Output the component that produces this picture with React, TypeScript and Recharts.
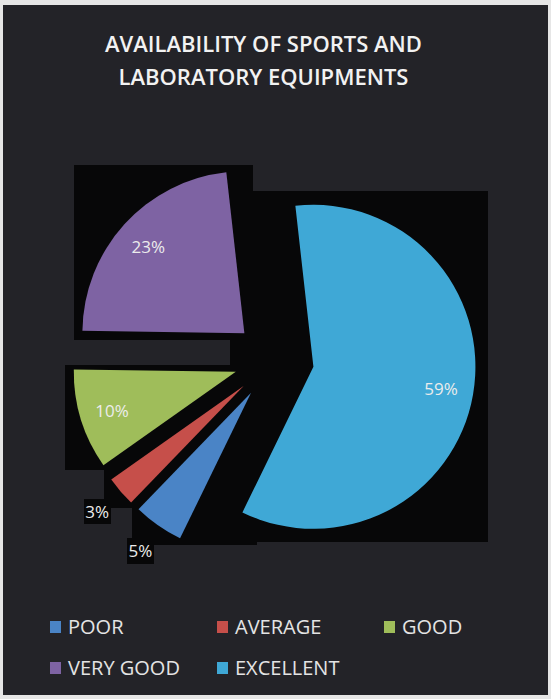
import React from 'react';
import { PieChart, Pie, Cell } from 'recharts';

const categories = ['POOR', 'AVERAGE', 'GOOD', 'VERY GOOD', 'EXCELLENT'];
const shares = [5, 3, 10, 23, 59];
const COLORS = ['#4a84c6', '#c64f4a', '#9fbd5a', '#7e63a3', '#3fa8d6'];

const RAD = Math.PI / 180;
const START = -116;
const CX = 269;
const CY = 355;
const R = 162;
const EXPLODE = 40;

const data = categories.map((name, i) => ({ name, value: shares[i] }));
const total = shares.reduce((a, b) => a + b, 0);

const midAngles = shares.map((v, i) => {
  const before = shares.slice(0, i).reduce((a, b) => a + b, 0);
  return START - ((before + v / 2) / total) * 360;
});

const makeLabel = (target: number) => (props: any) => {
  const { cx, cy, midAngle, outerRadius, index } = props;
  if (index !== target) return null;
  const small = shares[index] < 8;
  const r = small ? outerRadius * 1.19 : outerRadius * 0.8;
  const x = cx + r * Math.cos(-midAngle * RAD);
  const y = cy + r * Math.sin(-midAngle * RAD);
  const txt = {
    x,
    y,
    textAnchor: 'middle' as const,
    dominantBaseline: 'central' as const,
    fontSize: 17,
    fontFamily: "'Open Sans', sans-serif",
  };
  return (
    <g>
      {small && (
        <text {...txt} fill="#000" filter="url(#box)">
          {shares[index]}%
        </text>
      )}
      <text {...txt} fill="#ececec">
        {shares[index]}%
      </text>
    </g>
  );
};

export default function App() {
  return (
    <div style={{ position: 'relative', width: 551, height: 699, background: '#e6e6e6' }}>
      <style>{'body{margin:0;}'}</style>
      <div
        style={{
          position: 'absolute',
          left: 3,
          top: 5,
          width: 545,
          height: 690,
          background: '#232328',
        }}
      />
      <div
        style={{
          position: 'absolute',
          left: -12,
          top: 27,
          width: 551,
          textAlign: 'center',
          color: '#f2f2f2',
          fontFamily: "'Open Sans', sans-serif",
          fontSize: 22,
          fontWeight: 600,
          lineHeight: '33px',
        }}
      >
        AVAILABILITY OF SPORTS AND
        <br />
        LABORATORY EQUIPMENTS
      </div>
      <div style={{ position: 'absolute', left: 0, top: 0 }}>
        <PieChart width={551} height={699}>
          <defs>
            <filter id="box" x="-5%" y="-4%" width="110%" height="108%">
              <feFlood floodColor="#070708" />
            </filter>
          </defs>
          {/* dark boxes behind the slices */}
          {data.map((d, i) => (
            <Pie
              key={'bg-' + d.name}
              data={data}
              dataKey="value"
              nameKey="name"
              cx={CX + EXPLODE * Math.cos(-midAngles[i] * RAD)}
              cy={CY + EXPLODE * Math.sin(-midAngles[i] * RAD)}
              outerRadius={R}
              startAngle={START}
              endAngle={START - 360}
              stroke="none"
              isAnimationActive={false}
            >
              {data.map((e, j) => (
                <Cell
                  key={e.name}
                  fill={j === i ? '#000' : 'none'}
                  stroke="none"
                  filter={j === i ? 'url(#box)' : undefined}
                />
              ))}
            </Pie>
          ))}
          {/* exploded slices */}
          {data.map((d, i) => (
            <Pie
              key={d.name}
              data={data}
              dataKey="value"
              nameKey="name"
              cx={CX + EXPLODE * Math.cos(-midAngles[i] * RAD)}
              cy={CY + EXPLODE * Math.sin(-midAngles[i] * RAD)}
              outerRadius={R}
              startAngle={START}
              endAngle={START - 360}
              stroke="none"
              labelLine={false}
              label={makeLabel(i)}
              isAnimationActive={false}
            >
              {data.map((e, j) => (
                <Cell key={e.name} fill={j === i ? COLORS[j] : 'none'} stroke="none" />
              ))}
            </Pie>
          ))}
        </PieChart>
      </div>
      {categories.map((name, i) => {
        const col = i % 3;
        const row = Math.floor(i / 3);
        return (
          <div
            key={name}
            style={{
              position: 'absolute',
              left: 50 + col * 167,
              top: 613 + row * 41,
              display: 'flex',
              alignItems: 'center',
              color: '#e4e4e4',
              fontFamily: "'Open Sans', sans-serif",
              fontSize: 20,
              lineHeight: '28px',
            }}
          >
            <span
              style={{
                display: 'inline-block',
                width: 11,
                height: 12,
                background: COLORS[i],
                marginRight: 7,
              }}
            />
            {name}
          </div>
        );
      })}
    </div>
  );
}
